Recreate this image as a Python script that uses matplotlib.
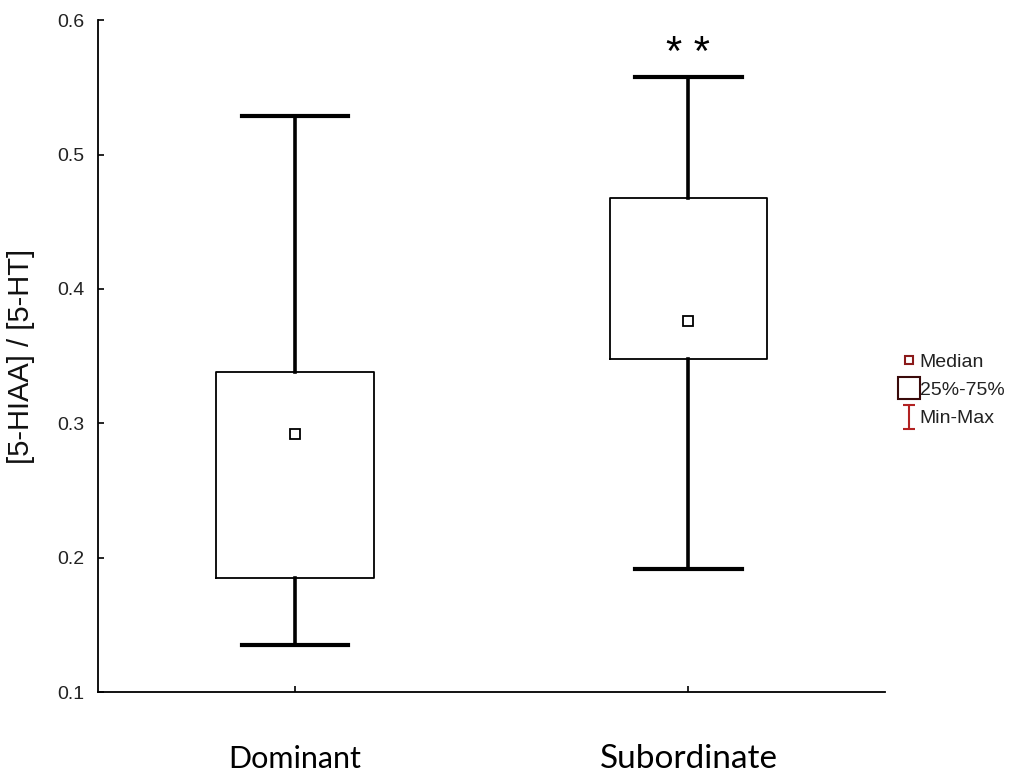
import matplotlib
matplotlib.use('Agg')
import matplotlib.pyplot as plt
from matplotlib.lines import Line2D
from matplotlib.path import Path

groups = ['Dominant', 'Subordinate']
mins = [0.135, 0.192]
q1s = [0.185, 0.348]
medians = [0.292, 0.376]
q3s = [0.338, 0.468]
maxs = [0.529, 0.558]

plt.rcParams['font.family'] = ['Liberation Sans', 'DejaVu Sans']

fig = plt.figure(figsize=(10.17, 7.76), dpi=100)
ax = fig.add_axes([0.0964, 0.108, 0.774, 0.866])

positions = [1, 2]
stats = []
for i in range(len(groups)):
    stats.append({'whislo': mins[i], 'q1': q1s[i], 'med': medians[i],
                  'q3': q3s[i], 'whishi': maxs[i], 'fliers': []})

ax.bxp(stats, positions=positions, widths=0.4, showfliers=False,
       boxprops=dict(color='black', linewidth=1.3),
       whiskerprops=dict(color='black', linewidth=2.6),
       capprops=dict(color='black', linewidth=3),
       medianprops=dict(linewidth=0),
       capwidths=0.27)
ax.plot(positions, medians, 's', ms=7, mfc='white', mec='black', mew=1.3, zorder=5)

ax.set_xlim(0.5, 2.5)
ax.set_ylim(0.1, 0.6)
ax.set_yticks([0.1, 0.2, 0.3, 0.4, 0.5, 0.6])
ax.set_yticklabels(['0.1', '0.2', '0.3', '0.4', '0.5', '0.6'], fontsize=14, color='#222222')
ax.set_xticks(positions)
ax.set_xticklabels([])
ax.tick_params(axis='both', direction='in', length=4, width=1.2)
ax.tick_params(axis='y', pad=10)
for s in ['top', 'right']:
    ax.spines[s].set_visible(False)
for s in ['left', 'bottom']:
    ax.spines[s].set_linewidth(1.3)

ax.set_ylabel('[5-HIAA] / [5-HT]', fontsize=21, color='#111111')
ax.yaxis.set_label_coords(-0.080, 0.5)

# category labels under the axis
ax.text(1, -0.1, groups[0], transform=ax.get_xaxis_transform(), ha='center',
        va='center', fontsize=22, family=['Lato', 'DejaVu Sans'])
ax.text(2, -0.1, groups[1], transform=ax.get_xaxis_transform(), ha='center',
        va='center', fontsize=24, family=['Lato', 'DejaVu Sans'])

# significance marker
ax.text(2, 0.575, '* *', ha='center', va='center', fontsize=30)

ibeam = Path([(-0.5, 1), (0.5, 1), (0, 1), (0, -1), (-0.5, -1), (0.5, -1)],
             [Path.MOVETO, Path.LINETO, Path.MOVETO, Path.LINETO, Path.MOVETO, Path.LINETO])
handles = [
    Line2D([], [], ls='none', marker='s', ms=6, mfc='white', mec='#8b1a1a', mew=1.5),
    Line2D([], [], ls='none', marker='s', ms=16, mfc='white', mec='#3a0a0a', mew=1.5),
    Line2D([], [], ls='none', marker=ibeam, ms=17, mfc='none', mec='#b22222', mew=1.5),
]
leg = fig.legend(handles, ['Median', '25%-75%', 'Min-Max'], loc='center left',
                 bbox_to_anchor=(0.869, 0.497), frameon=False, fontsize=14,
                 handlelength=0.8, handletextpad=0.15, labelspacing=0.55)
for t in leg.get_texts():
    t.set_color('#222222')

fig.savefig('out.png', dpi=100)
